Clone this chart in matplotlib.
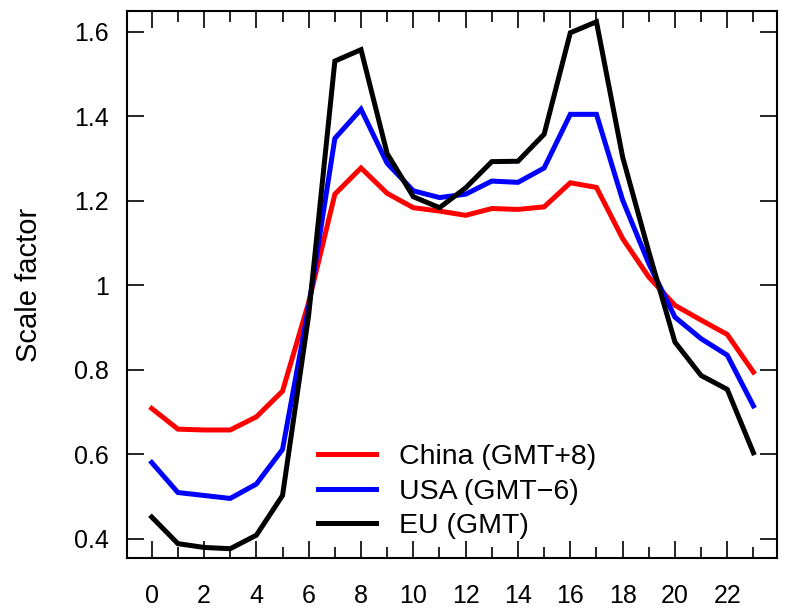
import matplotlib
matplotlib.use('Agg')
import matplotlib.pyplot as plt
import numpy as np

plt.rcParams['font.family'] = ['Liberation Sans', 'DejaVu Sans']

# hour of day
hours = np.arange(24)

china = [0.709, 0.660, 0.658, 0.658, 0.689, 0.750, 0.960, 1.216, 1.278, 1.218,
         1.184, 1.176, 1.166, 1.182, 1.180, 1.186, 1.243, 1.232, 1.111, 1.020,
         0.953, 0.918, 0.884, 0.795]
usa = [0.581, 0.510, 0.503, 0.496, 0.530, 0.612, 0.950, 1.348, 1.417, 1.289,
       1.224, 1.208, 1.216, 1.247, 1.244, 1.278, 1.405, 1.405, 1.202, 1.052,
       0.925, 0.874, 0.835, 0.715]
eu = [0.452, 0.389, 0.380, 0.377, 0.409, 0.503, 0.930, 1.531, 1.558, 1.312,
      1.210, 1.184, 1.231, 1.293, 1.294, 1.358, 1.598, 1.624, 1.304, 1.080,
      0.866, 0.787, 0.754, 0.604]

series = [(china, 'red', 'China (GMT+8)'),
          (usa, 'blue', 'USA (GMT\u22126)'),
          (eu, 'black', 'EU (GMT)')]

yticks = [0.4, 0.6, 0.8, 1.0, 1.2, 1.4, 1.6]
ytick_labels = ['0.4', '0.6', '0.8', '1', '1.2', '1.4', '1.6']
xticks = list(range(0, 24, 2))

fig = plt.figure(figsize=(7.88, 6.13), dpi=100)
ax = fig.add_axes([0.161, 0.0897, 0.825, 0.892])

for vals, col, lab in series:
    ax.plot(hours, vals, color=col, lw=3.6, label=lab, solid_joinstyle='miter')

ax.set_xlim(-0.95, 23.9)
ax.set_ylim(0.355, 1.649)

ax.set_xticks(xticks)
ax.set_xticks(range(1, 24, 2), minor=True)
ax.set_yticks(yticks)
ax.set_yticklabels(ytick_labels)

ax.tick_params(which='both', direction='in', top=True, right=True, width=1.2, labelsize=18)
ax.tick_params(which='major', length=12)
ax.tick_params(which='minor', length=8)
ax.tick_params(axis='x', pad=19)
ax.tick_params(axis='y', pad=13)
for sp in ax.spines.values():
    sp.set_linewidth(1.5)

ax.set_ylabel('Scale factor', fontsize=21, labelpad=22)

ax.legend(loc='upper left', bbox_to_anchor=(0.294, 0.209), frameon=False,
          fontsize=20.5, handlelength=2.03, handletextpad=0.8,
          labelspacing=0.31, borderpad=0, borderaxespad=0)

fig.savefig('out.png', dpi=100)
